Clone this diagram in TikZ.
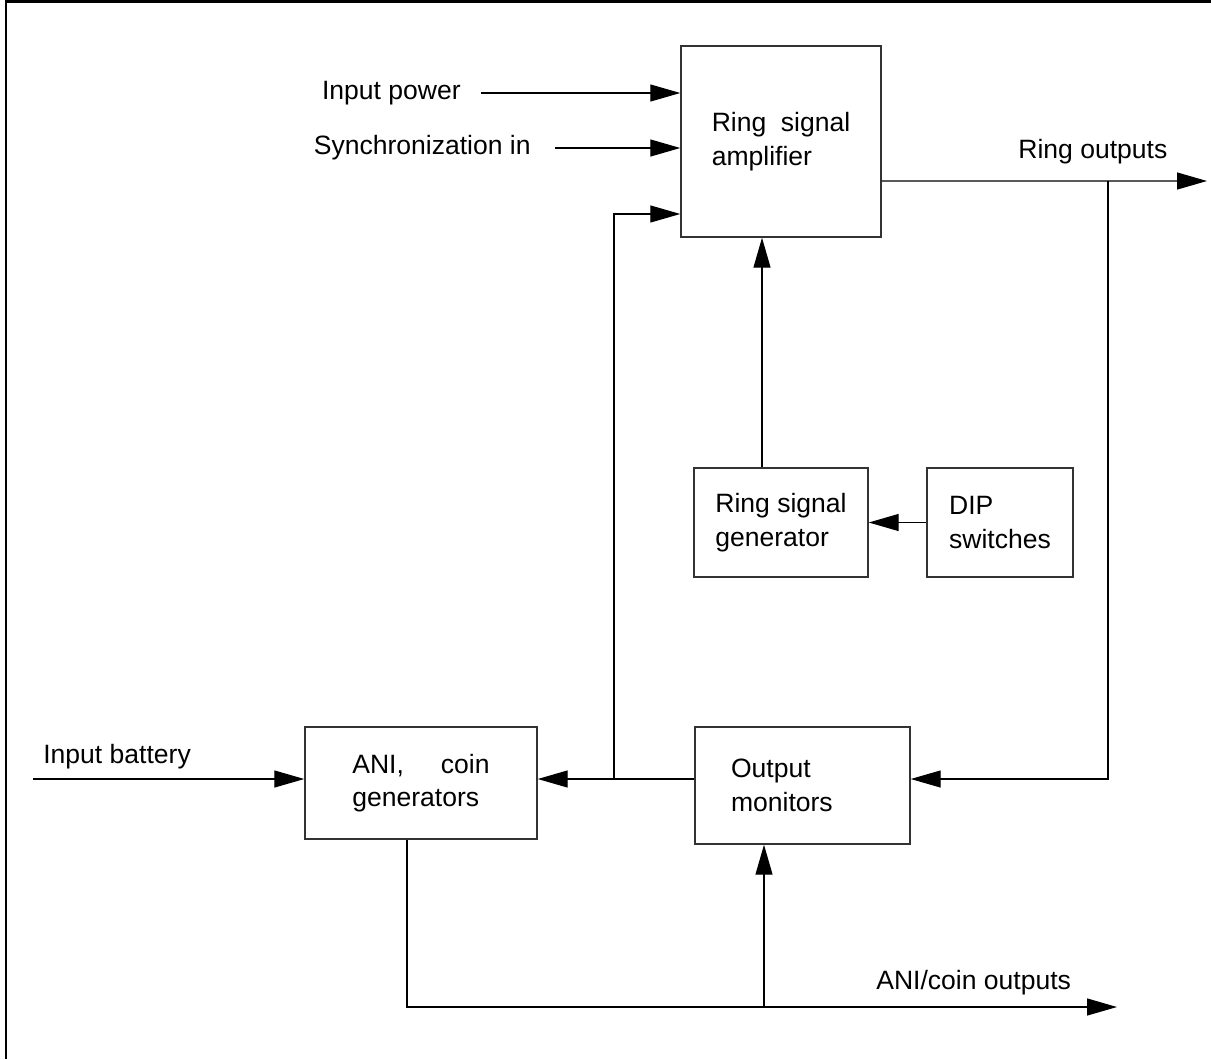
\documentclass[tikz,border=0pt]{standalone}
\usepackage{fontspec}
\setmainfont{Liberation Sans}
\usetikzlibrary{arrows.meta}

\begin{document}
\begin{tikzpicture}[x=0.02cm, y=-0.02cm,
  >={Triangle[length=0.6cm, width=0.34cm]},
  font=\fontsize{15.1}{19}\selectfont,
  block/.style={draw=black!80, line width=0.03cm, inner sep=0pt, align=left},
  tag/.style={inner sep=0pt},
  wire/.style={draw=black, line width=0.025cm}]

\useasboundingbox (0,0) rectangle (1211,1059);
\draw[line width=0.045cm] (6,1059) -- (6,1.5) -- (1211,1.5);

% blocks
\node[block, minimum width=4cm, minimum height=3.82cm] (amp) at (781,141.5) {Ring\hspace{0.29cm}signal\\amplifier};
\node[block, minimum width=3.48cm, minimum height=2.18cm] (gen) at (781,522.5) {Ring signal\\generator};
\node[block, minimum width=2.92cm, minimum height=2.18cm] (dip) at (1000,522.5) {DIP\\switches};
\node[block, minimum width=4.64cm, minimum height=2.24cm] (ani) at (421,783) {ANI,\hspace{0.74cm}coin\\generators};
\node[block, minimum width=4.3cm, minimum height=2.34cm, text width=2.86cm] (mon) at (802.5,785.5) {Output\\monitors};

% labels
\node[tag, anchor=east] (pwr) at (461,93) {Input power};
\node[tag, anchor=east] (sync) at (531,148) {Synchronization in};
\node[tag, anchor=west] (ringlbl) at (1018,152) {Ring outputs};
\node[tag, anchor=west] (battlbl) at (43,757) {Input battery};
\node[tag, anchor=west] (anilbl) at (876,983) {ANI/coin outputs};

% branch points and free ends
\coordinate (fb) at (614,779);
\coordinate (tap) at (1108,181);
\coordinate (ringout) at (1207,181);
\coordinate (batt) at (33,779);
\coordinate (bus) at (764,1007);
\coordinate (anicoin) at (1117,1007);

% connectors
\draw[wire,->] ([xshift=0.4cm]pwr.east) -- (pwr.east -| amp.west);
\draw[wire,->] ([xshift=0.48cm]sync.east) -- (sync.east -| amp.west);
\draw[wire,->] (fb) |- ([yshift=-1.45cm]amp.west);
\draw[wire,->] ([yshift=-0.79cm]amp.east) -- (ringout);
\draw[wire,->] (tap) |- (mon.east |- fb);
\draw[wire,->] ([xshift=-0.38cm]gen.north) -- ([xshift=-0.38cm]amp.south);
\draw[wire,->] (dip) -- (gen);
\draw[wire,->] (mon.west |- fb) -- (ani.east |- fb);
\draw[wire,->] (batt) -- (ani.west |- batt);
\draw[wire,->] ([xshift=-0.28cm]ani.south) |- (anicoin);
\draw[wire,->] (bus) -- (bus |- mon.south);

\end{tikzpicture}
\end{document}
